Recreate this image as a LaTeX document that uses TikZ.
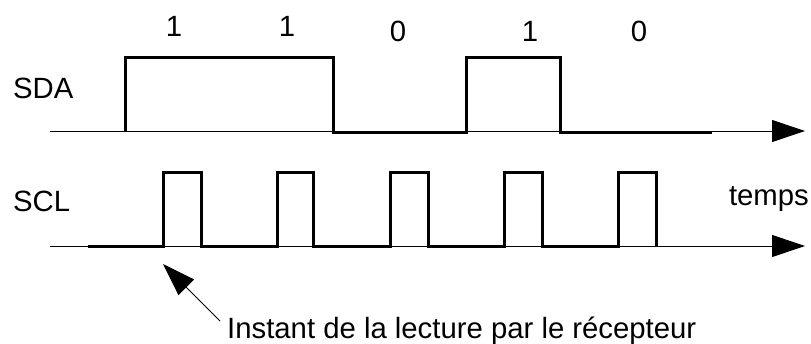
\documentclass[tikz,border=0pt]{standalone}
\usepackage{fontspec}
\setmainfont{Liberation Sans}
\usetikzlibrary{arrows.meta}
\begin{document}
\begin{tikzpicture}[x=1pt,y=-1pt,
  axis/.style={line width=1pt,-{Triangle[length=33pt,width=22pt]}},
  pointer/.style={line width=1pt,-{Triangle[length=33pt,width=22pt]}},
  signal/.style={line width=3pt,line join=miter},
  lbl/.style={inner sep=0pt,font=\fontsize{29.3}{35}\selectfont}]
\useasboundingbox (0,0) rectangle (811,343);
% axes
\coordinate (sdaA) at (50,131);
\coordinate (sdaB) at (805,131);
\coordinate (sclA) at (50,246);
\coordinate (sclB) at (805,246);
\draw[axis] (sdaA) -- (sdaB);
\draw[axis] (sclA) -- (sclB);
% SDA signal
\draw[signal] (125,131) -- (125,57) -- (333,57) -- (333,132) -- (466,132)
  -- (466,57) -- (560,57) -- (560,132) -- (712,132);
% SCL signal
\draw[signal] (88,246) -- (163,246) -- (163,172) -- (201,172) -- (201,246)
  -- (277,246) -- (277,172) -- (313,172) -- (313,246)
  -- (390,246) -- (390,172) -- (428,172) -- (428,246)
  -- (504,246) -- (504,172) -- (542,172) -- (542,246)
  -- (618,246) -- (618,172) -- (656,172) -- (656,246);
% labels
\node[lbl,anchor=base west] (sda) at (13,98) {SDA};
\node[lbl,anchor=base west] (scl) at (13,211) {SCL};
\node[lbl,anchor=base east] (temps) at (809,205) {temps};
\node[lbl,anchor=base] (b1) at (174,36) {1};
\node[lbl,anchor=base] (b2) at (287,36) {1};
\node[lbl,anchor=base] (b3) at (398,41) {0};
\node[lbl,anchor=base] (b4) at (530,41) {1};
\node[lbl,anchor=base] (b5) at (639,41) {0};
\node[lbl,anchor=base west] (instant) at (227,338) {Instant de la lecture par le récepteur};
\coordinate (ptr) at (220,321);
\coordinate (tip) at (163,264);
\draw[pointer] (ptr) -- (tip);
\end{tikzpicture}
\end{document}
